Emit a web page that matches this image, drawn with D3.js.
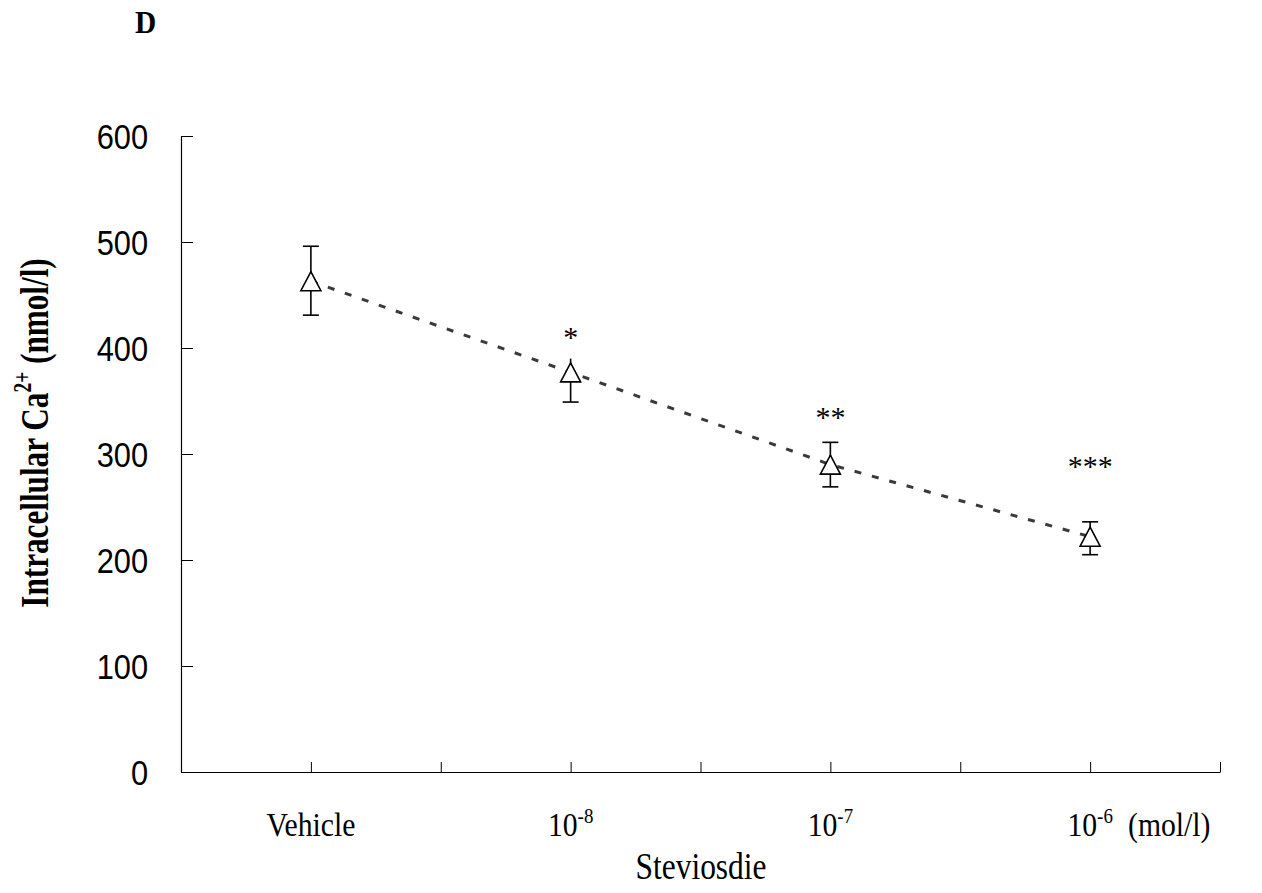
<!DOCTYPE html>
<html>
<head>
<meta charset="utf-8">
<script src="https://cdn.jsdelivr.net/npm/d3@7"></script>
<style>
  body { margin: 0; background: #fff; }
  svg { display: block; }
</style>
</head>
<body>
<script>
// chart data
var categories = ["Vehicle", "10", "10", "10"],
    exponents = ["", "-8", "-7", "-6"],
    means = [463, 377, 290, 222],
    upper = [496, 390, 311, 236],
    lower = [431, 349, 269, 205],
    stars = ["", "*", "**", "***"],
    starLevel = [null, 415, 340, 293],
    yTicks = [0, 100, 200, 300, 400, 500, 600];

var width = 1262, height = 893;
var serif = "'Liberation Serif', 'Times New Roman', serif";

var svg = d3.select("body").append("svg")
    .attr("width", width)
    .attr("height", height);

// x is a plain linear scale, categories sit on odd positions
var x = d3.scaleLinear().domain([0, 8]).range([181, 1220]);
var y = d3.scaleLinear().domain([0, 600]).range([772, 136]);
var pos = function(i) { return x(i * 2 + 1); };

// the figure's fonts are narrow and tall, squeeze them horizontally
function textAt(parent, px, py, sx) {
    return parent.append("text")
        .attr("transform", "translate(" + px + "," + py + ") scale(" + sx + ",1)");
}

// y axis
var yAxis = svg.append("g")
    .attr("transform", "translate(181,0)")
    .call(d3.axisLeft(y).tickValues(yTicks).tickSizeInner(-12).tickSizeOuter(0).tickPadding(33));
yAxis.select(".domain").attr("stroke", "#000").attr("stroke-width", 1.2);
yAxis.selectAll(".tick line").attr("stroke", "#000").attr("stroke-width", 1);
yAxis.selectAll(".tick text")
    .attr("fill", "#000")
    .attr("x", -33 / 0.88)
    .attr("dy", "0.36em")
    .attr("transform", "scale(0.88,1)")
    .style("font-family", "'Liberation Sans', Arial, sans-serif")
    .style("font-size", "35px");

// x axis, ticks only
var xAxis = svg.append("g")
    .attr("transform", "translate(0,772)")
    .call(d3.axisBottom(x).tickValues(d3.range(1, 9)).tickSizeInner(-10).tickSizeOuter(0).tickFormat(""));
xAxis.select(".domain").attr("stroke", "#000").attr("stroke-width", 1.2);
xAxis.selectAll(".tick line").attr("stroke", "#000").attr("stroke-width", 1);

// category labels
var labels = svg.append("g")
    .style("font-family", serif)
    .style("font-size", "33px")
    .attr("fill", "#000");

categories.forEach(function(c, i) {
    var t = textAt(labels, pos(i), 836, 0.9)
        .attr("text-anchor", "middle");
    t.append("tspan").text(c);
    if (exponents[i]) {
        t.append("tspan")
            .attr("dy", -13)
            .style("font-size", "21px")
            .text(exponents[i]);
    }
});

textAt(labels, 1128, 836, 0.9).text("(mol/l)");

textAt(labels, 701, 879, 0.85)
    .attr("text-anchor", "middle")
    .style("font-size", "37px")
    .text("Steviosdie");

// y axis title
var yt = svg.append("text")
    .attr("transform", "translate(48,433) rotate(-90) scale(0.78,1)")
    .attr("text-anchor", "middle")
    .style("font-family", serif)
    .style("font-size", "40px")
    .style("font-weight", "bold")
    .attr("fill", "#000");
yt.append("tspan").text("Intracellular Ca");
yt.append("tspan").attr("dy", -17).style("font-size", "25px").text("2+");
yt.append("tspan").attr("dy", 17).text(" (nmol/l)");

// panel letter
textAt(svg, 135, 33, 0.95)
    .style("font-family", serif)
    .style("font-size", "31px")
    .style("font-weight", "bold")
    .text("D");

// dashed line through the means
var line = d3.line()
    .x(function(d, i) { return pos(i); })
    .y(function(d) { return y(d); });

svg.append("path")
    .datum(means)
    .attr("d", line)
    .attr("fill", "none")
    .attr("stroke", "#3a3a3a")
    .attr("stroke-width", 3)
    .attr("stroke-dasharray", "7,11");

// error bars
var bars = svg.append("g")
    .attr("stroke", "#000")
    .attr("stroke-width", 1.6);

means.forEach(function(m, i) {
    var cx = pos(i);
    bars.append("line")
        .attr("x1", cx).attr("x2", cx)
        .attr("y1", y(upper[i])).attr("y2", y(lower[i]));
    // 10^-8 shows no top cap in the figure
    if (i != 1) {
        bars.append("line")
            .attr("x1", cx - 8).attr("x2", cx + 8)
            .attr("y1", y(upper[i])).attr("y2", y(upper[i]));
    }
    bars.append("line")
        .attr("x1", cx - 8).attr("x2", cx + 8)
        .attr("y1", y(lower[i])).attr("y2", y(lower[i]));
});

// open triangle markers
svg.selectAll(".tri")
    .data(means)
    .enter()
    .append("path")
    .attr("class", "tri")
    .attr("transform", function(d, i) {
        return "translate(" + pos(i) + "," + y(d) + ")";
    })
    .attr("d", "M0,-9.5L10,9.5L-10,9.5Z")
    .attr("fill", "#fff")
    .attr("stroke", "#000")
    .attr("stroke-width", 1.6);

// significance stars
stars.forEach(function(s, i) {
    if (!s) return;
    svg.append("text")
        .attr("x", pos(i))
        .attr("y", y(starLevel[i]) + 15)
        .attr("text-anchor", "middle")
        .style("font-family", serif)
        .style("font-size", "30px")
        .text(s);
});
</script>
</body>
</html>
